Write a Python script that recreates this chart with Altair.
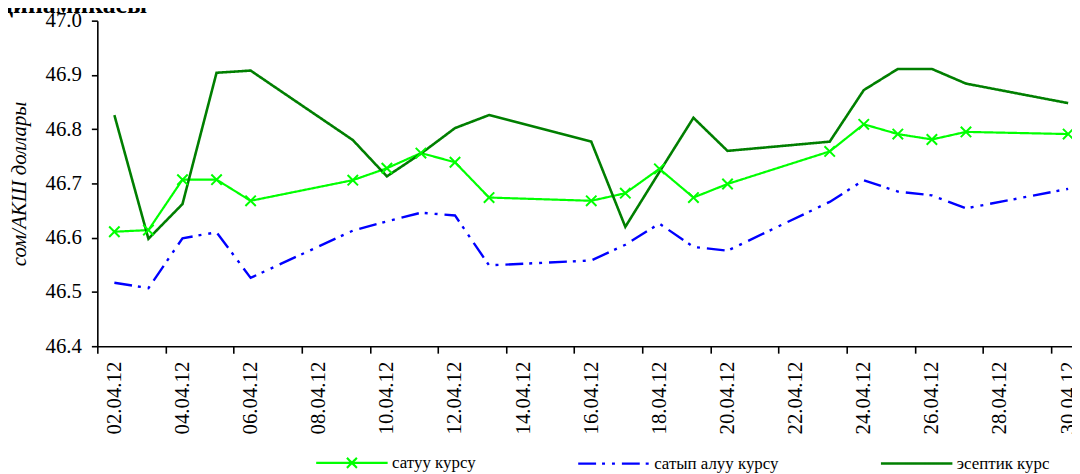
import altair as alt
import pandas as pd

# ---- data ----
dates = ["02.04.12", "03.04.12", "04.04.12", "05.04.12", "06.04.12",
         "09.04.12", "10.04.12", "11.04.12", "12.04.12", "13.04.12",
         "16.04.12", "17.04.12", "18.04.12", "19.04.12", "20.04.12",
         "23.04.12", "24.04.12", "25.04.12", "26.04.12", "27.04.12",
         "30.04.12"]
sell = [46.611, 46.614, 46.707, 46.707, 46.668,
        46.706, 46.728, 46.756, 46.739, 46.674,
        46.668, 46.682, 46.727, 46.674, 46.699,
        46.759, 46.809, 46.791, 46.781, 46.795,
        46.791]
buy = [46.517, 46.507, 46.599, 46.610, 46.526,
       46.613, 46.630, 46.646, 46.641, 46.549,
       46.558, 46.587, 46.626, 46.583, 46.576,
       46.666, 46.706, 46.685, 46.678, 46.654,
       46.690]
official = [46.826, 46.598, 46.662, 46.904, 46.908,
            46.780, 46.713, 46.755, 46.802, 46.826,
            46.777, 46.620, 46.721, 46.821, 46.760,
            46.777, 46.872, 46.911, 46.911, 46.884,
            46.848]

series_names = ["сатуу курсу", "сатып алуу курсу", "эсептик курс"]
series_colors = ["#00FF00", "#0000FF", "#007F00"]
series_dash = [[1, 0], [18, 6, 3, 7, 3, 7], [1, 0]]
series_width = [2.2, 2.6, 1.8]

tick_days = list(range(2, 31, 2))
tick_labels = ["%02d.04.12" % d for d in tick_days]
y_ticks = [46.4, 46.5, 46.6, 46.7, 46.8, 46.9, 47.0]

y_title = "сом/АКШ доллары"
chart_title = "динамикасы"

# ---- long table ----
rows = []
for name, vals in zip(series_names, [sell, buy, official]):
    for d, v in zip(dates, vals):
        rows.append({"date": d, "day": int(d[:2]), "series": name, "value": v})
df = pd.DataFrame(rows)

W, H = 982, 328
day_px = W / (30.113 - 1.5)
half = day_px / 2
SYM = 72  # legend symbol length in px

label_arr = "[" + ",".join("'%s'" % t for t in tick_labels) + "]"

x_enc = alt.X(
    "day:Q",
    scale=alt.Scale(domain=[1.5, 30.113], nice=False, zero=False),
    axis=alt.Axis(
        values=tick_days,
        labelExpr=label_arr + "[(datum.value - 2) / 2]",
        labelAngle=-90, labelAlign="right", labelBaseline="middle",
        tickOffset=-half, labelOffset=half,
        labelFontSize=21, labelPadding=8, tickSize=7,
        labelFlush=False, labelOverlap=False, title=None,
    ),
)
y_enc = alt.Y(
    "value:Q",
    scale=alt.Scale(domain=[46.4, 47.0], nice=False, zero=False),
    axis=alt.Axis(
        values=y_ticks, format=".1f", labelFontSize=21, labelPadding=10,
        tickSize=6, title=y_title, titleFont="Liberation Serif",
        titleFontStyle="italic", titleFontWeight="normal", titleFontSize=21,
        titleColor="#000000", titlePadding=16,
    ),
)

legend_props = dict(
    title=None, orient="none", legendX=219, legendY=463 - 19 - SYM // 2,
    direction="horizontal", columns=3, columnPadding=97,
)

color_enc = alt.Color(
    "series:N",
    scale=alt.Scale(domain=series_names, range=series_colors),
    legend=alt.Legend(**legend_props),
)
dash_enc = alt.StrokeDash(
    "series:N",
    scale=alt.Scale(domain=series_names, range=series_dash),
    legend=alt.Legend(**legend_props),
)
width_enc = alt.StrokeWidth(
    "series:N",
    scale=alt.Scale(domain=series_names, range=series_width),
    legend=None,
)

lines = alt.Chart(df).mark_line(clip=True, strokeCap="butt").encode(
    x=x_enc, y=y_enc, color=color_enc, strokeDash=dash_enc,
    strokeWidth=width_enc, order="day:Q", detail="series:N",
)

markers = alt.Chart(df).transform_filter(
    alt.datum.series == series_names[0]
).mark_point(
    shape="M-1,-1L1,1M-1,1L1,-1", size=110, filled=False,
    stroke=series_colors[0], strokeWidth=2, opacity=1, clip=True,
).encode(x=x_enc, y=y_enc)

# legend-only layer: gives the first legend entry its cross marker
legend_shapes = [
    "M-1,0H1M-0.14,-0.14L0.14,0.14M-0.14,0.14L0.14,-0.14",
    "M-1,0H1",
    "M-1,0H1",
]
legend_layer = alt.Chart(df).transform_filter("false").mark_point(
    filled=False, opacity=1, strokeWidth=2
).encode(
    x=x_enc, y=y_enc, color=color_enc, strokeDash=dash_enc,
    shape=alt.Shape(
        "series:N",
        scale=alt.Scale(domain=series_names, range=legend_shapes),
        legend=alt.Legend(**legend_props),
    ),
)

# top title line, cropped by the top edge like in the reference
title_df = pd.DataFrame({"t": [chart_title]})
title_mark = alt.Chart(title_df).mark_text(
    align="left", baseline="alphabetic", font="Liberation Serif",
    fontSize=26, fontWeight="bold", color="#000000", clip=False,
).encode(x=alt.value(-98), y=alt.value(-8), text="t:N")

chart = alt.layer(lines, markers, legend_layer, title_mark).properties(
    width=W, height=H,
    padding={"left": 90, "top": 11, "right": 0, "bottom": 127},
    autosize=alt.AutoSizeParams(type="none"),
).configure_view(stroke=None).configure_axis(
    grid=False, domainColor="#000000", domainWidth=1.6,
    tickColor="#000000", tickWidth=1.6, labelColor="#000000",
    labelFont="Liberation Serif",
).configure_legend(
    labelFont="Liberation Serif", labelFontSize=17, labelColor="#000000",
    symbolSize=SYM * SYM, symbolStrokeWidth=2.2, labelOffset=3,
    symbolType="stroke",
)

chart.save("out.html", embed_options={"renderer": "svg", "actions": False})
